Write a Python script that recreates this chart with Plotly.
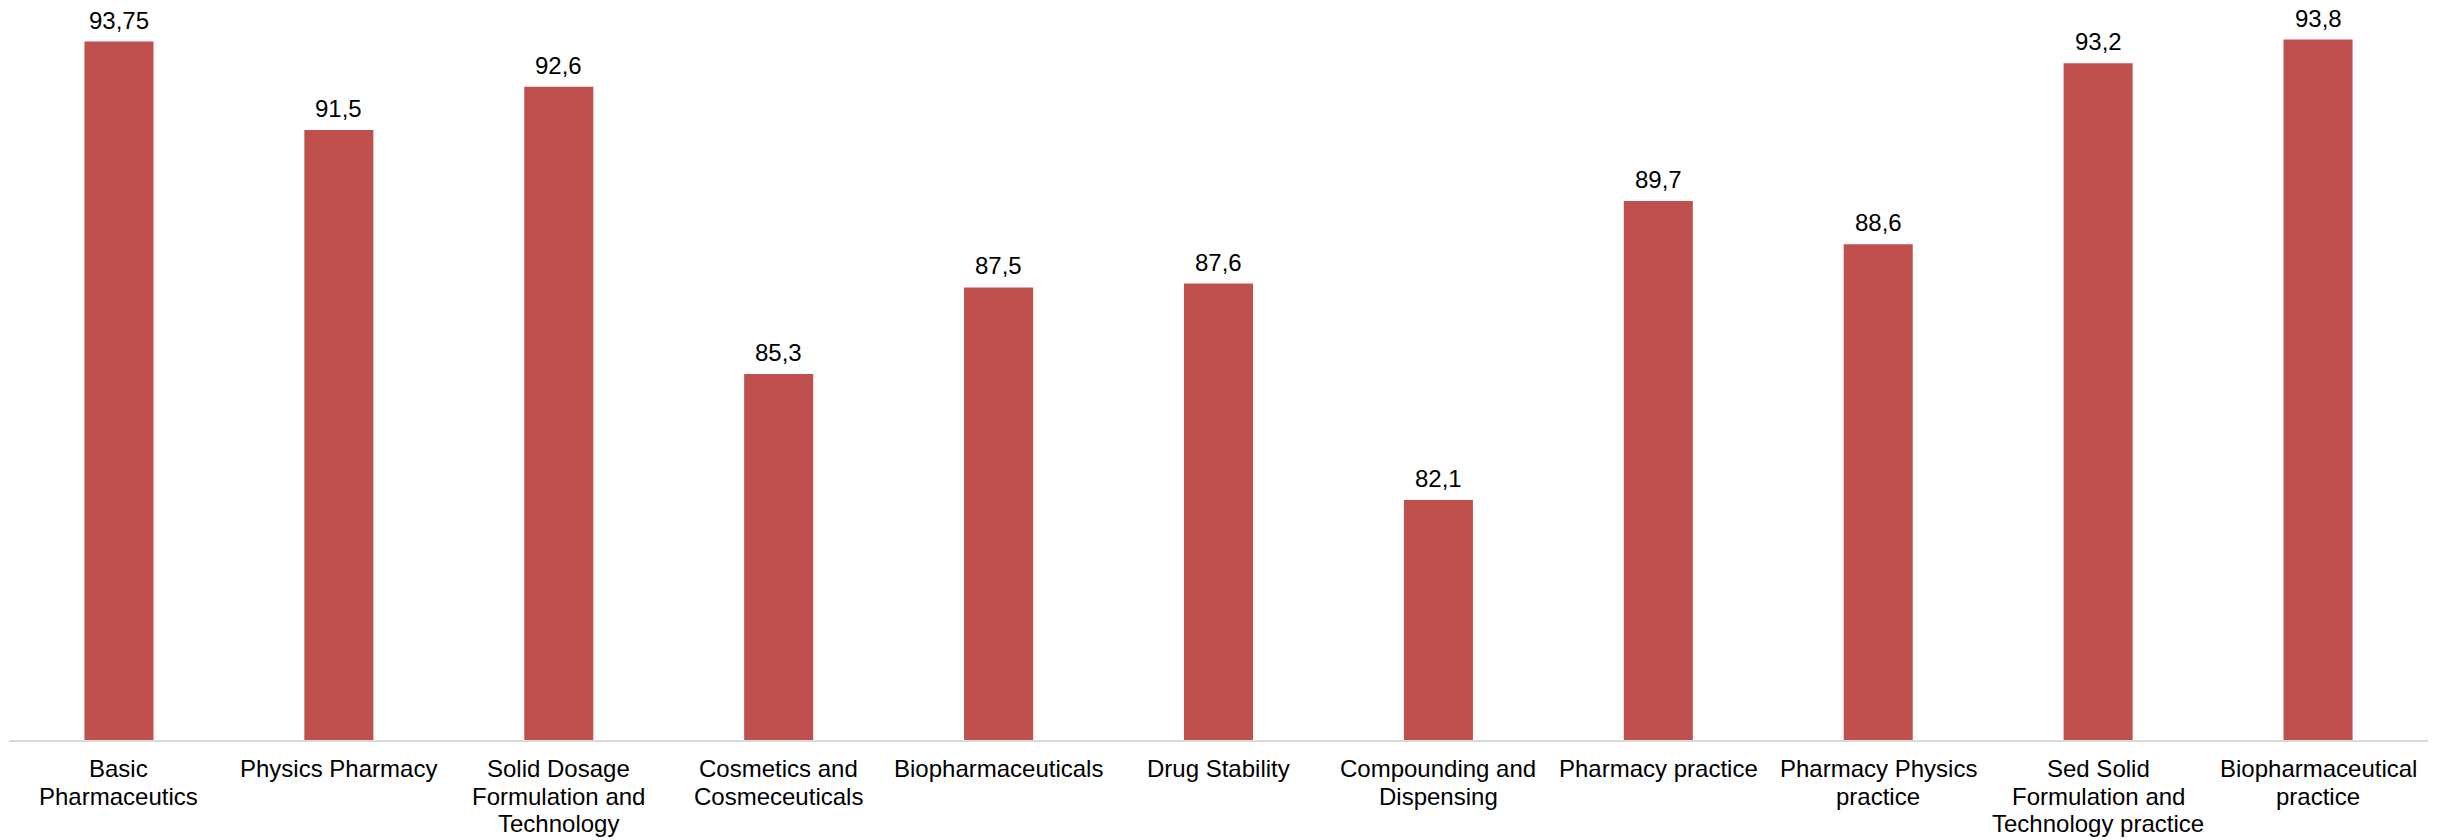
import plotly.graph_objects as go

# Catégories (libellés de l'axe X, une ligne par élément)
categories = [
    ["Basic", "Pharmaceutics"],
    ["Physics Pharmacy"],
    ["Solid Dosage", "Formulation and", "Technology"],
    ["Cosmetics and", "Cosmeceuticals"],
    ["Biopharmaceuticals"],
    ["Drug Stability"],
    ["Compounding and", "Dispensing"],
    ["Pharmacy practice"],
    ["Pharmacy Physics", "practice"],
    ["Sed Solid", "Formulation and", "Technology practice"],
    ["Biopharmaceutical", "practice"],
]

# Valeurs des barres
values = [93.75, 91.5, 92.6, 85.3, 87.5, 87.6, 82.1, 89.7, 88.6, 93.2, 93.8]

# Etiquettes avec virgule décimale
labels = [str(v).replace(".", ",") for v in values]

BAR_COLOR = "#C0504D"
FONT = "Liberation Sans, Arial, sans-serif"

x_pos = list(range(len(categories)))

fig = go.Figure(
    go.Bar(
        x=x_pos,
        y=values,
        marker=dict(color=BAR_COLOR, line=dict(width=0)),
        hoverinfo="skip",
    )
)

# Etiquettes de valeur au-dessus des barres
for xi, v, lab in zip(x_pos, values, labels):
    fig.add_annotation(
        x=xi, y=v, text=lab,
        showarrow=False,
        yanchor="bottom",
        yshift=7,
        borderpad=0,
        font=dict(size=24, color="#000000", family=FONT),
    )

# Libellés des catégories (interligne serré comme dans Excel)
for xi, lines in zip(x_pos, categories):
    for k, line in enumerate(lines):
        fig.add_annotation(
            x=xi, xref="x",
            y=0, yref="paper",
            text=line,
            showarrow=False,
            yanchor="middle",
            yshift=-(28.6 + 27.5 * k),
            font=dict(size=24, color="#000000", family=FONT),
        )

fig.update_layout(
    width=2440,
    height=840,
    margin=dict(l=1, r=20, t=4, b=108),
    plot_bgcolor="white",
    paper_bgcolor="white",
    bargap=0.686,
    showlegend=False,
    font=dict(family=FONT, size=24, color="#000000"),
    xaxis=dict(
        range=[-0.5, len(categories) - 0.5],
        automargin=False,
        showline=True,
        linecolor="#D9D9D9",
        linewidth=2,
        showgrid=False,
        zeroline=False,
        showticklabels=False,
        ticks="",
    ),
    yaxis=dict(
        range=[76, 94.5],
        visible=False,
        showgrid=False,
        zeroline=False,
    ),
)

fig.write_html("out.html")
